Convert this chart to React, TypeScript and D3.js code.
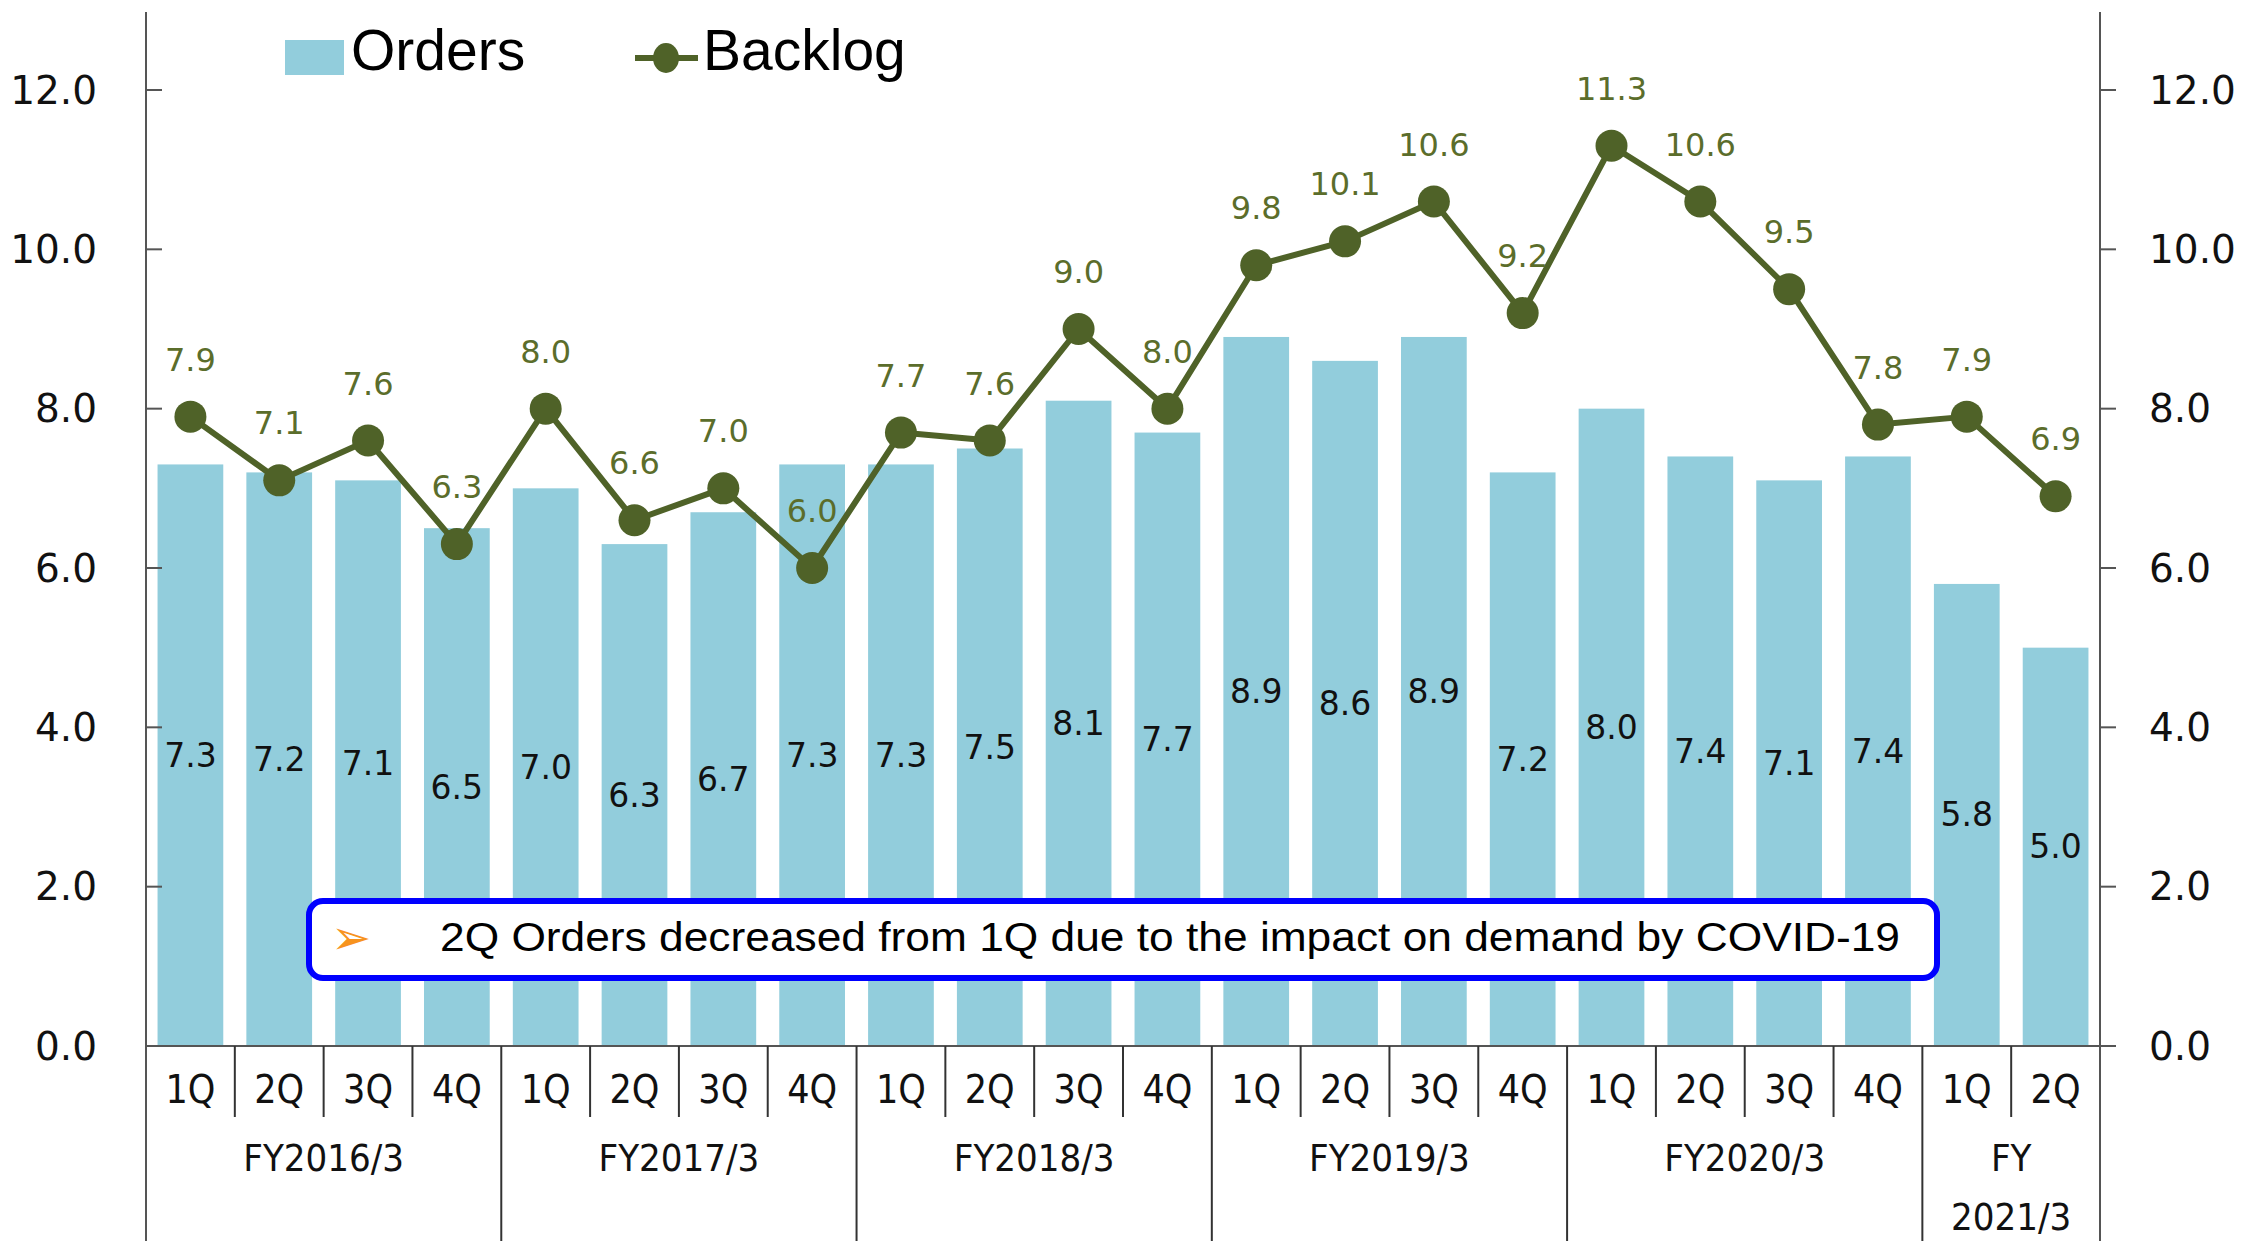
import React from "react";
import * as d3 from "d3";

const quarters = ["1Q","2Q","3Q","4Q","1Q","2Q","3Q","4Q","1Q","2Q","3Q","4Q","1Q","2Q","3Q","4Q","1Q","2Q","3Q","4Q","1Q","2Q"];
const fiscalYears = [
  { lines: ["FY2016/3"], start: 0, end: 4 },
  { lines: ["FY2017/3"], start: 4, end: 8 },
  { lines: ["FY2018/3"], start: 8, end: 12 },
  { lines: ["FY2019/3"], start: 12, end: 16 },
  { lines: ["FY2020/3"], start: 16, end: 20 },
  { lines: ["FY", "2021/3"], start: 20, end: 22 },
];
const orders = [7.3, 7.2, 7.1, 6.5, 7.0, 6.3, 6.7, 7.3, 7.3, 7.5, 8.1, 7.7, 8.9, 8.6, 8.9, 7.2, 8.0, 7.4, 7.1, 7.4, 5.8, 5.0];
const backlog = [7.9, 7.1, 7.6, 6.3, 8.0, 6.6, 7.0, 6.0, 7.7, 7.6, 9.0, 8.0, 9.8, 10.1, 10.6, 9.2, 11.3, 10.6, 9.5, 7.8, 7.9, 6.9];
const yTicks = [0, 2, 4, 6, 8, 10, 12];
const note = "2Q Orders decreased from 1Q due to the impact on demand by COVID-19";

const W = 2246, H = 1241;
const X0 = 146, X1 = 2100, Y0 = 1046, Y12 = 90;
const BAR = "#92cddc";
const LINE = "#4f6228";
const LABEL = "#5b6d2b";
const NUM_FONT = "'DejaVu Sans', Verdana, sans-serif";
const CAT_FONT = "'Liberation Sans Narrow', 'DejaVu Sans Condensed', 'Liberation Sans', sans-serif";

export default function App() {
  const idx = d3.range(quarters.length);
  const x = d3.scaleBand<number>().domain(idx).range([X0, X1]).paddingInner(0.26).paddingOuter(0.13);
  const y = d3.scaleLinear().domain([0, 12]).range([Y0, Y12]);
  const step = x.step();
  const cx = (i: number) => (x(i) as number) + x.bandwidth() / 2;
  const lineGen = d3.line<number>().x((_, i) => cx(i)).y((d) => y(d));
  const bx = (i: number) => X0 + i * step;

  return (
    <svg width={W} height={H} style={{ position: "absolute", left: 0, top: 0, background: "#fff" }}>
      {/* bars */}
      {orders.map((v, i) => (
        <rect key={"b" + i} x={x(i)} y={y(v)} width={x.bandwidth()} height={Y0 - y(v)} fill={BAR} />
      ))}
      {/* axes */}
      <line x1={X0} x2={X0} y1={12} y2={H} stroke="#555" strokeWidth={2} />
      <line x1={X1} x2={X1} y1={12} y2={H} stroke="#555" strokeWidth={2} />
      <line x1={X0} x2={X1 + 16} y1={Y0} y2={Y0} stroke="#555" strokeWidth={2} />
      {yTicks.map((t) => (
        <g key={"t" + t}>
          <line x1={X0} x2={X0 + 16} y1={y(t)} y2={y(t)} stroke="#555" strokeWidth={2} />
          <line x1={X1} x2={X1 + 16} y1={y(t)} y2={y(t)} stroke="#555" strokeWidth={2} />
          <text x={97} y={y(t)} textAnchor="end" dominantBaseline="central" fontFamily={NUM_FONT} fontSize={39} fill="#111">
            {t.toFixed(1)}
          </text>
          <text x={2149} y={y(t)} textAnchor="start" dominantBaseline="central" fontFamily={NUM_FONT} fontSize={39} fill="#111">
            {t.toFixed(1)}
          </text>
        </g>
      ))}
      {/* category separators */}
      {d3.range(1, quarters.length).map((i) => {
        const isYear = fiscalYears.some((f) => f.start === i);
        return <line key={"s" + i} x1={bx(i)} x2={bx(i)} y1={Y0} y2={isYear ? H : 1117} stroke="#333" strokeWidth={2} />;
      })}
      {quarters.map((q, i) => (
        <text key={"q" + i} x={cx(i)} y={1089} textAnchor="middle" dominantBaseline="central" fontFamily={CAT_FONT} fontSize={39} fill="#111">
          {q}
        </text>
      ))}
      {fiscalYears.map((f, k) => (
        <text key={"f" + k} x={(bx(f.start) + bx(f.end)) / 2} textAnchor="middle" fontFamily={CAT_FONT} fontSize={38} fill="#111">
          {f.lines.map((l, j) => (
            <tspan key={j} x={(bx(f.start) + bx(f.end)) / 2} y={1158 + j * 59} dominantBaseline="central">
              {l}
            </tspan>
          ))}
        </text>
      ))}
      {/* order labels */}
      {orders.map((v, i) => (
        <text key={"ol" + i} x={cx(i)} y={y(v / 2)} textAnchor="middle" dominantBaseline="central" fontFamily={NUM_FONT} fontSize={33} fill="#111">
          {v.toFixed(1)}
        </text>
      ))}
      {/* backlog line */}
      <path d={lineGen(backlog) as string} fill="none" stroke={LINE} strokeWidth={6} strokeLinejoin="round" />
      {backlog.map((v, i) => (
        <circle key={"p" + i} cx={cx(i)} cy={y(v)} r={16} fill={LINE} />
      ))}
      {backlog.map((v, i) => (
        <text key={"bl" + i} x={cx(i)} y={y(v) - 57} textAnchor="middle" dominantBaseline="central" fontFamily={NUM_FONT} fontSize={32} fill={LABEL}>
          {v.toFixed(1)}
        </text>
      ))}
      {/* annotation */}
      <rect x={309} y={901} width={1628} height={77} rx={14} ry={14} fill="#fff" stroke="#0000ff" strokeWidth={6} />
      <text x={351} y={937} textAnchor="middle" dominantBaseline="central" fontFamily="'DejaVu Sans', sans-serif" fontSize={48} fill="#f7931e">
        ➢
      </text>
      <text x={440} y={937} dominantBaseline="central" fontFamily="'Liberation Sans', sans-serif" fontSize={40} fill="#000" textLength={1460} lengthAdjust="spacingAndGlyphs">
        {note}
      </text>
      {/* legend */}
      <rect x={285} y={40} width={59} height={35} fill={BAR} />
      <text x={351} y={50} dominantBaseline="central" fontFamily="'Liberation Sans', sans-serif" fontSize={57} fill="#000">
        Orders
      </text>
      <line x1={635} x2={698} y1={58} y2={58} stroke={LINE} strokeWidth={6} />
      <ellipse cx={666} cy={58} rx={13} ry={15} fill={LINE} />
      <text x={703} y={50} dominantBaseline="central" fontFamily="'Liberation Sans', sans-serif" fontSize={57} fill="#000">
        Backlog
      </text>
    </svg>
  );
}
